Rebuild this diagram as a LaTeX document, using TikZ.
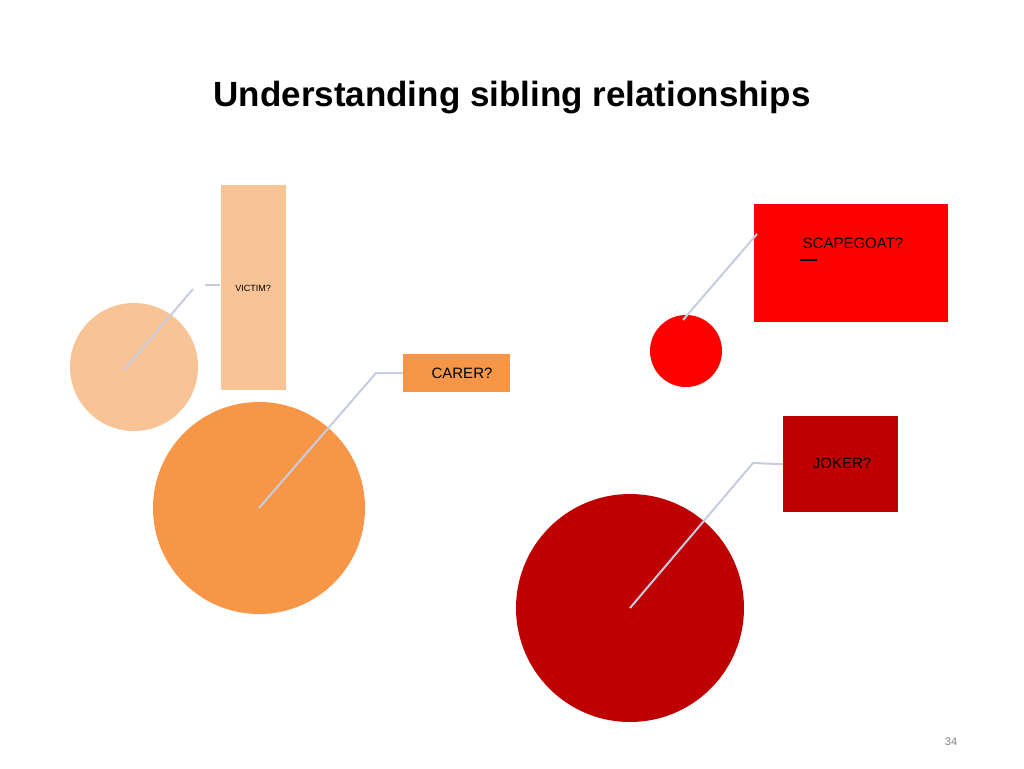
\documentclass[tikz,border=0pt]{standalone}
\usepackage{fontspec}
\setmainfont{Liberation Sans}
\usetikzlibrary{positioning}
\definecolor{peach}{HTML}{F8C496}
\definecolor{orng}{HTML}{F79646}
\definecolor{brightred}{HTML}{FF0000}
\definecolor{darkred}{HTML}{BE0000}
\definecolor{callout}{HTML}{C8CCE0}
\begin{document}
\begin{tikzpicture}[x=1pt,y=-1pt,
    role/.style={rectangle, inner sep=0pt, anchor=north west, font=\fontsize{15}{18}\selectfont},
    blob/.style={circle, inner sep=0pt},
    link/.style={draw=callout, line width=2pt}
]
\useasboundingbox[fill=white] (0,0) rectangle (1024,768);
\node (title) at (512,98) {\fontsize{35}{42}\selectfont\bfseries Understanding sibling relationships};

% Victim
\node[role, fill=peach, minimum width=65pt, minimum height=205pt] (victimbox) at (221,185) {};
\node[font=\fontsize{9}{11}\selectfont] (victim) at (253,288) {VICTIM?};
\node[blob, fill=peach, minimum size=128pt] (victimdot) at (134,367) {};
\coordinate (v1) at (193,289);
\coordinate (v2) at (205,285);
\coordinate (v3) at (220,285);
\draw[link] (124,370) -- (v1);
\draw[link] (v2) -- (v3);

% Carer
\node[blob, fill=orng, minimum size=212pt] (carerdot) at (259,508) {};
\node[role, fill=orng, minimum width=107pt, minimum height=38pt] (carerbox) at (403,354) {};
\node (carer) at (462,373) {\fontsize{15}{18}\selectfont CARER?};
\coordinate (c1) at (376,373);
\draw[link] (carerdot.center) -- (c1) -- (carerbox.west);

% Scapegoat
\node[role, fill=brightred, minimum width=194pt, minimum height=118pt] (scapebox) at (754,204) {};
\node (scape) at (853,243) {\fontsize{15}{18}\selectfont SCAPEGOAT?};
\draw[line width=2pt] (800,260) -- (817,260);
\node[blob, fill=brightred, minimum size=72pt] (scapedot) at (686,351) {};
\draw[link] (683,320) -- (757,234);

% Joker
\node[role, fill=darkred, minimum width=115pt, minimum height=96pt] (jokerbox) at (783,416) {};
\node (joker) at (842,463) {\fontsize{15}{18}\selectfont JOKER?};
\node[blob, fill=darkred, minimum size=228pt] (jokerdot) at (630,608) {};
\coordinate (j1) at (753,463);
\draw[link] (jokerdot.center) -- (j1) -- (jokerbox.west);

\node[text=gray] (page) at (951,742) {\fontsize{11}{13}\selectfont 34};
\end{tikzpicture}
\end{document}
